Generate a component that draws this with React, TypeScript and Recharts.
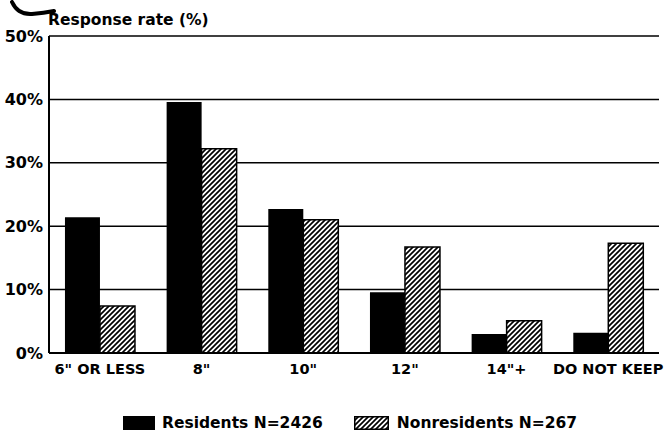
import { BarChart, Bar, XAxis, YAxis, CartesianGrid, Legend } from 'recharts'

const categories = ['6" OR LESS', '8"', '10"', '12"', '14"+', 'DO NOT KEEP']
const residents = [21.4, 39.6, 22.7, 9.6, 3.0, 3.2]
const nonresidents = [7.4, 32.2, 21.0, 16.7, 5.1, 17.3]
const yTicks = [0, 10, 20, 30, 40, 50]

const FONT = '"DejaVu Sans", sans-serif'

const data = categories.map((name, i) => ({
  name,
  residents: residents[i],
  nonresidents: nonresidents[i],
}))

function LegendBox() {
  return (
    <div
      style={{
        display: 'flex',
        alignItems: 'center',
        height: 20,
        paddingLeft: 123,
        fontFamily: FONT,
        fontWeight: 'bold',
        fontSize: 15.5,
        color: '#000',
      }}
    >
      <span style={{ width: 32, height: 14, background: '#000', display: 'inline-block' }} />
      <span style={{ marginLeft: 7 }}>Residents N=2426</span>
      <svg width={35} height={14} style={{ marginLeft: 31 }}>
        <rect x={0.75} y={0.75} width={33.5} height={12.5} fill="url(#hatch)" stroke="#000" strokeWidth={1.5} />
      </svg>
      <span style={{ marginLeft: 8 }}>Nonresidents N=267</span>
    </div>
  )
}

export default function App() {
  return (
    <div style={{ position: 'absolute', top: 0, left: 0, width: 665, height: 439, background: '#fff' }}>
      <svg width={60} height={20} style={{ position: 'absolute', left: 0, top: 0 }}>
        <path d="M12,2 Q18,15 32,14 Q44,13 54,11" fill="none" stroke="#000" strokeWidth={4} strokeLinecap="round" />
      </svg>
      <div
        style={{
          position: 'absolute',
          left: 48,
          top: 11,
          fontFamily: FONT,
          fontWeight: 'bold',
          fontSize: 15.5,
          lineHeight: '18px',
          color: '#000',
        }}
      >
        Response rate (%)
      </div>
      <BarChart
        width={665}
        height={439}
        data={data}
        margin={{ top: 36, right: 6, left: 0, bottom: 6 }}
        barCategoryGap="15.7%"
        barGap={0}
      >
        <defs>
          <pattern id="hatch" patternUnits="userSpaceOnUse" width={5} height={5}>
            <rect width={5} height={5} fill="#fff" />
            <path d="M-1,1 l2,-2 M0,5 l5,-5 M4,6 l2,-2" stroke="#000" strokeWidth={1.7} />
          </pattern>
        </defs>
        <CartesianGrid vertical={false} stroke="#000" strokeWidth={1.5} />
        <XAxis
          dataKey="name"
          height={60}
          tickLine={false}
          tickSize={0}
          tickMargin={11}
          axisLine={{ stroke: '#000', strokeWidth: 2 }}
          tick={{ fill: '#000', fontFamily: FONT, fontWeight: 'bold', fontSize: 14.5 }}
          interval={0}
        />
        <YAxis
          width={49}
          domain={[0, 50]}
          ticks={yTicks}
          tickFormatter={(v) => `${v}%`}
          tickLine={false}
          tickSize={0}
          tickMargin={6}
          axisLine={{ stroke: '#000', strokeWidth: 2 }}
          tick={{ fill: '#000', fontFamily: FONT, fontWeight: 'bold', fontSize: 16 }}
        />
        <YAxis
          yAxisId="right"
          orientation="right"
          width={0}
          domain={[0, 50]}
          tick={false}
          tickLine={false}
          axisLine={{ stroke: '#000', strokeWidth: 2 }}
        />
        <Legend verticalAlign="bottom" wrapperStyle={{ left: 0, width: 665 }} content={() => <LegendBox />} />
        <Bar dataKey="residents" name="Residents N=2426" fill="#000" isAnimationActive={false} />
        <Bar
          dataKey="nonresidents"
          name="Nonresidents N=267"
          fill="url(#hatch)"
          stroke="#000"
          strokeWidth={1.5}
          isAnimationActive={false}
        />
      </BarChart>
    </div>
  )
}
